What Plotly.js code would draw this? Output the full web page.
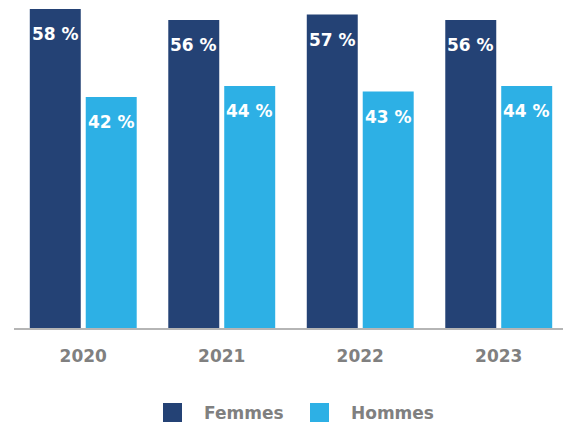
<!DOCTYPE html>
<html>
<head>
<meta charset="utf-8">
<script src="https://cdn.plot.ly/plotly-3.0.1.min.js"></script>
<style>html,body{margin:0;padding:0;background:#fff;}#chart{width:563px;height:425px;}</style>
</head>
<body>
<div id="chart"></div>
<script>
var years = ['2020', '2021', '2022', '2023'];
var femmes = [58, 56, 57, 56];
var hommes = [42, 44, 43, 44];
var seriesNames = ['Femmes', 'Hommes'];
var seriesColors = ['#244275', '#2db0e5'];

var W = 563, H = 425, L = 14, B = 97;
var plotW = W - L, plotH = H - B;
var FONT = 'DejaVu Sans';

var traces = [femmes, hommes].map(function (vals, i) {
  return {
    type: 'bar', x: years, y: vals, name: seriesNames[i],
    marker: {color: seriesColors[i]}, hoverinfo: 'none', showlegend: false
  };
});

var annotations = [];
[femmes, hommes].forEach(function (vals, i) {
  vals.forEach(function (v, j) {
    annotations.push({
      x: j, y: v, xref: 'x', yref: 'y', text: v + ' %', showarrow: false,
      xanchor: 'center', yanchor: 'middle', xshift: i === 0 ? -28 : 28, yshift: -25,
      font: {family: FONT, size: 17, color: '#ffffff', weight: 'bold'}
    });
  });
});

function px2x(p) { return (p - L) / plotW; }
function py2y(p) { return (plotH - p) / plotH; }
var legendX = [163, 310];
var shapes = [];
seriesNames.forEach(function (n, i) {
  shapes.push({
    type: 'rect', xref: 'paper', yref: 'paper',
    x0: px2x(legendX[i]), x1: px2x(legendX[i] + 19), y0: py2y(403), y1: py2y(422),
    fillcolor: seriesColors[i], line: {width: 0}
  });
  annotations.push({
    xref: 'paper', yref: 'paper', x: px2x(legendX[i] + 39), y: py2y(412.5),
    xanchor: 'left', yanchor: 'middle', showarrow: false, text: n,
    font: {family: FONT, size: 17, color: '#808080', weight: 'bold'}
  });
});

var layout = {
  width: W, height: H,
  margin: {l: L, r: 0, t: 0, b: B, pad: 0},
  paper_bgcolor: '#ffffff', plot_bgcolor: '#ffffff',
  barmode: 'group', bargap: 0.192, bargroupgap: 0.089,
  xaxis: {
    type: 'category', range: [-0.5, 3.464], showgrid: false, zeroline: false,
    showline: true, linecolor: '#b5b5b5', linewidth: 2, ticks: '',
    tickfont: {family: FONT, size: 17, color: '#808080', weight: 'bold'},
    ticklabelstandoff: 12, fixedrange: true
  },
  yaxis: {
    range: [0, plotH / 5.5], visible: false, showgrid: false, zeroline: false, fixedrange: true
  },
  annotations: annotations,
  shapes: shapes,
  showlegend: false
};

Plotly.newPlot('chart', traces, layout, {displayModeBar: false, staticPlot: true});
</script>
</body>
</html>
